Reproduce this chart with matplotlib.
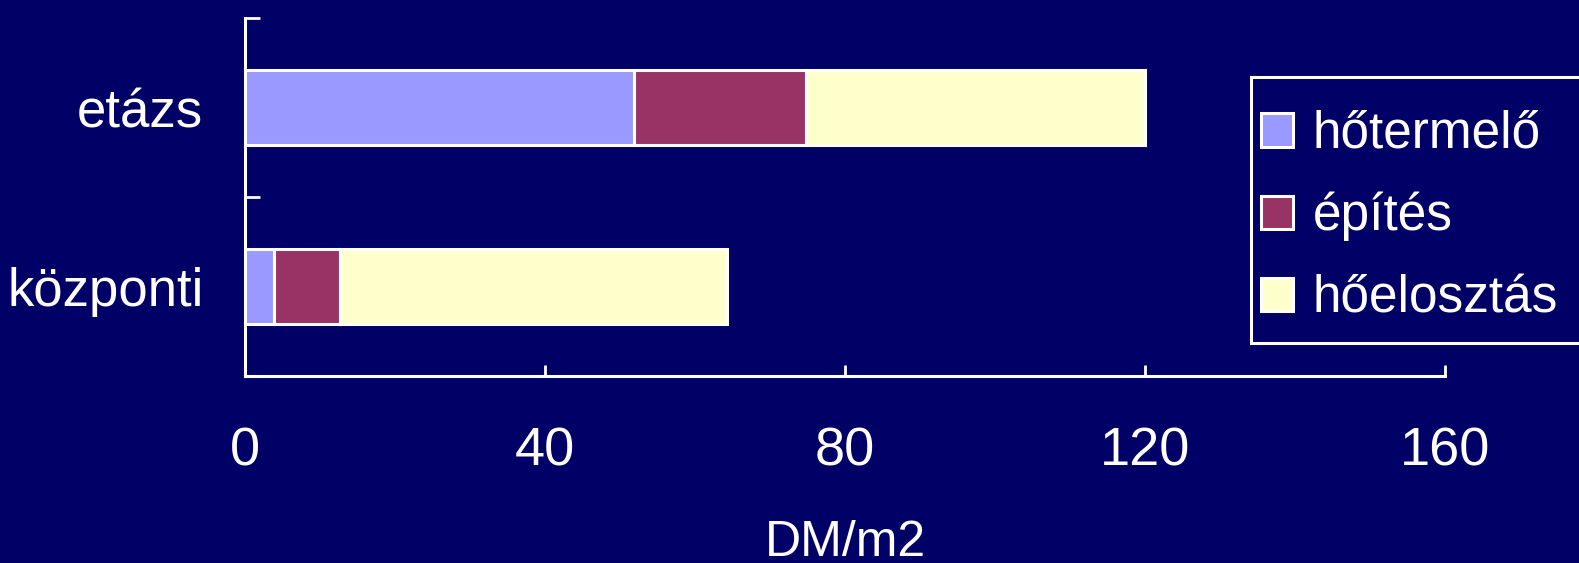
import matplotlib
matplotlib.use("Agg")
import matplotlib.pyplot as plt
from matplotlib.patches import Rectangle
import numpy as np

# data (DM/m2)
categories = ["központi", "etázs"]
series_names = ["hőtermelő", "építés", "hőelosztás"]
hotermelo = [3.9, 51.8]
epites = [8.7, 23.0]
hoelosztas = [51.7, 45.2]
xticks = [0, 40, 80, 120, 160]

bg = "#000066"
colors = ["#9999FF", "#993366", "#FFFFCC"]

plt.rcParams['font.family'] = ['Liberation Sans', 'DejaVu Sans']

W, H = 1579, 563
fig = plt.figure(figsize=(W / 100, H / 100), dpi=100, facecolor=bg)
ax = fig.add_axes([245 / W, 1 - 376 / H, (1445 - 245) / W, (376 - 18) / H])
ax.set_facecolor(bg)

y = np.arange(len(categories))
left = np.zeros(len(categories))
for name, vals, col in zip(series_names, [hotermelo, epites, hoelosztas], colors):
    ax.barh(y, vals, left=left, height=0.42, color=col, edgecolor="white",
            linewidth=2.2, label=name)
    left = left + np.array(vals)

ax.set_xlim(0, 160)
ax.set_ylim(-0.5, 1.5)

# ticks
ax.set_xticks(xticks)
ax.set_xticklabels([str(t) for t in xticks], fontsize=39, color="white")
ax.tick_params(axis="x", direction="in", length=8, width=2, color="white", pad=36)

ax.set_yticks([-0.5, 0.5, 1.5])
ax.set_yticklabels([])
ax.set_yticks(y, minor=True)
ax.set_yticklabels(categories, minor=True, fontsize=38, color="white")
ax.tick_params(axis="y", which="major", direction="in", length=11, width=2, color="white")
ax.tick_params(axis="y", which="minor", length=0, pad=30)

for s in ["top", "right"]:
    ax.spines[s].set_visible(False)
for s in ["left", "bottom"]:
    ax.spines[s].set_color("white")
    ax.spines[s].set_linewidth(2.2)

ax.set_xlabel("DM/m2", fontsize=36, color="white", labelpad=32)

# legend frame runs off the right edge, so draw it separately
fig.patches.append(Rectangle((1251 / W, 1 - 343 / H), 400 / W, (343 - 77) / H,
                             transform=fig.transFigure, facecolor=bg,
                             edgecolor="white", linewidth=2.2, zorder=1))
handles, labels = ax.get_legend_handles_labels()
leg = fig.legend(handles, labels, loc="upper left",
                 bbox_to_anchor=(1261 / W, 1 - 110 / H), borderaxespad=0,
                 fontsize=37, frameon=False,
                 handlelength=0.62, handleheight=0.62, handletextpad=0.39,
                 labelspacing=0.64, borderpad=0, labelcolor="white")
leg.set_zorder(2)

fig.savefig("out.png", dpi=100, facecolor=bg)
